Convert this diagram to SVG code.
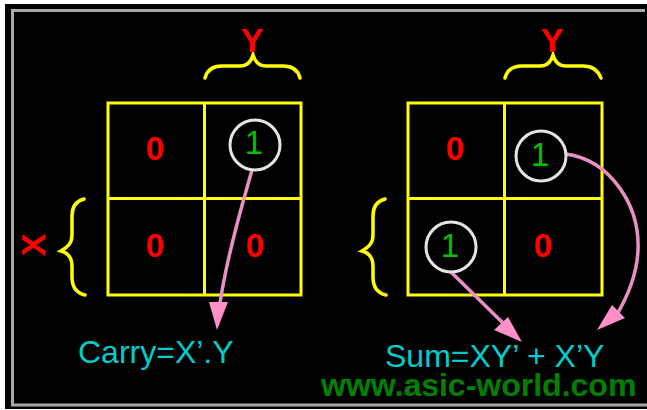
<svg xmlns="http://www.w3.org/2000/svg" width="647" height="410" viewBox="0 0 647 410">
<style>
.grid{fill:none;stroke:#ffff00;stroke-width:3}
.brace{fill:none;stroke:#ffff00;stroke-width:3.500;stroke-linecap:round}
.ring{fill:none;stroke:#e4e4e4;stroke-width:3}
.conn{fill:none;stroke:#e890c0;stroke-width:3.500}
.head{fill:#ff90c8}
text{font-family:"Liberation Sans",Arial,sans-serif}
.zero{fill:#ff0000;font-size:33px;font-weight:bold;text-anchor:middle}
.one{fill:#00c000;font-size:33px;text-anchor:middle}
.axis{fill:#ff0000;font-size:34px;font-weight:bold;text-anchor:middle}
.eq{fill:#00cccc;font-size:32px}
.url{fill:#008000;font-size:32px;font-weight:bold}
</style>
<rect width="647" height="410" fill="#ffffff"/>
<rect x="5" y="4" width="642" height="405" fill="#000000"/>
<path id="frame" d="M645 10.500H12.500V405H647" fill="none" stroke="#a8a8a8" stroke-width="3"/>
<g id="kmap-carry">
<rect class="grid" x="108" y="103" width="193" height="192"/>
<path class="grid" d="M204.500 103V295M108 198.500H301"/>
</g>
<g id="kmap-sum">
<rect class="grid" x="408" y="103" width="194" height="192"/>
<path class="grid" d="M504.500 103V295M408 198.500H602"/>
</g>
<g id="braces">
<path class="brace" d="M205 78C207 70 213 66 222 66H240C247 66 251 62 253 55C255 62 259 66 266 66H283C292 66 298 70 300 78"/>
<path class="brace" d="M505 78C507 70 513 66 522 66H540C547 66 551 62 553 55C555 62 559 66 566 66H583C592 66 598 70 601 78"/>
<path class="brace" d="M84 199C76 201 72 207 72 216V235C72 243 68 247 61 251C68 253 72 258 72 266V277C72 287 76 293 85 295"/>
<path class="brace" d="M385 199C377 201 373 207 373 216V235C373 243 369 247 362 251C369 253 373 258 373 266V277C373 287 377 293 386 295"/>
</g>
<g id="connectors">
<path class="conn" d="M252 170C245 195 228 250 220 303"/>
<path class="head" d="M209 302L228 302L217 330Z"/>
<path class="conn" d="M451 272L506 326"/>
<path class="conn" d="M566 154C610 160 640 205 638 250C637 275 628 296 616 316"/>
<path class="head" d="M494 330L508 317L522 342Z"/>
<path class="head" d="M597 330L612 305L625 318Z"/>
</g>
<g id="cells-carry">
<text class="zero" x="155" y="160">0</text>
<circle class="ring" cx="255" cy="145" r="25"/>
<text class="one" x="254" y="154">1</text>
<text class="zero" x="155" y="257">0</text>
<text class="zero" x="255" y="257">0</text>
</g>
<g id="cells-sum">
<text class="zero" x="455" y="160">0</text>
<circle class="ring" cx="541" cy="156" r="25"/>
<text class="one" x="540" y="166">1</text>
<circle class="ring" cx="451" cy="247" r="25"/>
<text class="one" x="450" y="257">1</text>
<text class="zero" x="543" y="257">0</text>
</g>
<g id="labels">
<text class="axis" x="252" y="52">Y</text>
<text class="axis" x="552" y="52">Y</text>
<text class="axis" x="33" y="245" transform="rotate(-90 33 245) translate(0 12)">X</text>
<text class="eq" x="78" y="363">Carry=X’.Y</text>
<text class="eq" x="385" y="367">Sum=XY’ + X’Y</text>
<text class="url" x="321" y="396">www.asic-world.com</text>
</g>
</svg>
